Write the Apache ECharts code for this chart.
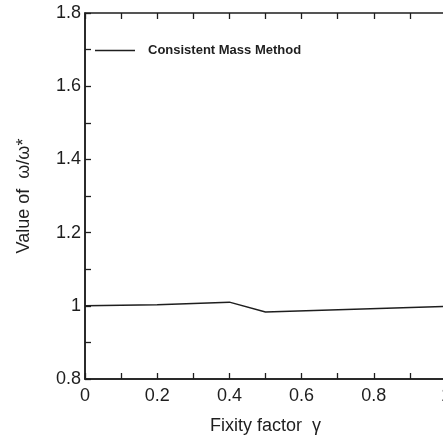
<!DOCTYPE html>
<html>
<head>
<meta charset="utf-8">
<script src="https://cdn.jsdelivr.net/npm/echarts@6/dist/echarts.min.js"></script>
<style>
  html, body { margin: 0; padding: 0; background: #fff; }
  #main { width: 443px; height: 439px; }
</style>
</head>
<body>
<div id="main"></div>
<script>
// values
var gamma = [0, 0.2, 0.4, 0.5, 1.0];
var ratio = [1.0, 1.003, 1.01, 0.983, 0.998];
var seriesName = 'Consistent Mass Method';

var ink = '#1e1e1e';
var font = 'Liberation Sans, Arial, sans-serif';

var chart = echarts.init(document.getElementById('main'));

var tickStyle = { show: true, inside: true, length: 6, lineStyle: { color: ink, width: 1.3 } };

function everyOther(v) {
  var r = Math.round(v * 10);
  return r % 2 === 0 ? String(r / 10) : '';
}

chart.setOption({
  animation: false,
  grid: {
    left: 85, top: 13, width: 361, height: 366, containLabel: false, outerBoundsMode: 'none',
    show: true, borderColor: ink, borderWidth: 1.5, backgroundColor: 'transparent'
  },
  legend: {
    left: 95, top: 44, padding: 0,
    itemWidth: 40, itemHeight: 14,
    textStyle: { fontFamily: font, fontSize: 13, fontWeight: 'bold', color: ink, padding: [0, 0, 0, 8] },
    data: [{ name: seriesName, icon: 'path://M0,6.3L40,6.3L40,7.7L0,7.7Z' }]
  },
  xAxis: [{
    type: 'value', min: 0, max: 1, interval: 0.1,
    name: 'Fixity factor  γ', nameLocation: 'middle', nameGap: 38,
    nameTextStyle: { fontFamily: font, fontSize: 18, color: ink },
    axisLine: { lineStyle: { color: ink, width: 1.5 } },
    axisTick: tickStyle,
    axisLabel: { fontFamily: font, fontSize: 18, color: ink, margin: 8, formatter: everyOther },
    splitLine: { show: false }
  }, {
    type: 'value', min: 0, max: 1, interval: 0.1, position: 'top',
    axisLine: { show: false },
    axisTick: tickStyle, axisLabel: { show: false }, splitLine: { show: false }
  }],
  yAxis: [{
    type: 'value', min: 0.8, max: 1.8, interval: 0.1,
    name: 'Value of  ω/ω*', nameLocation: 'middle', nameGap: 52,
    nameTextStyle: { fontFamily: font, fontSize: 18, color: ink },
    axisLine: { show: true, lineStyle: { color: ink, width: 1.5 } },
    axisTick: tickStyle,
    axisLabel: { fontFamily: font, fontSize: 18, color: ink, margin: 4, formatter: everyOther },
    splitLine: { show: false }
  }],
  series: [{
    name: seriesName,
    type: 'line',
    symbol: 'none',
    lineStyle: { color: ink, width: 1.5 },
    itemStyle: { color: ink },
    data: gamma.map(function (g, i) { return [g, ratio[i]]; })
  }]
});
</script>
</body>
</html>
